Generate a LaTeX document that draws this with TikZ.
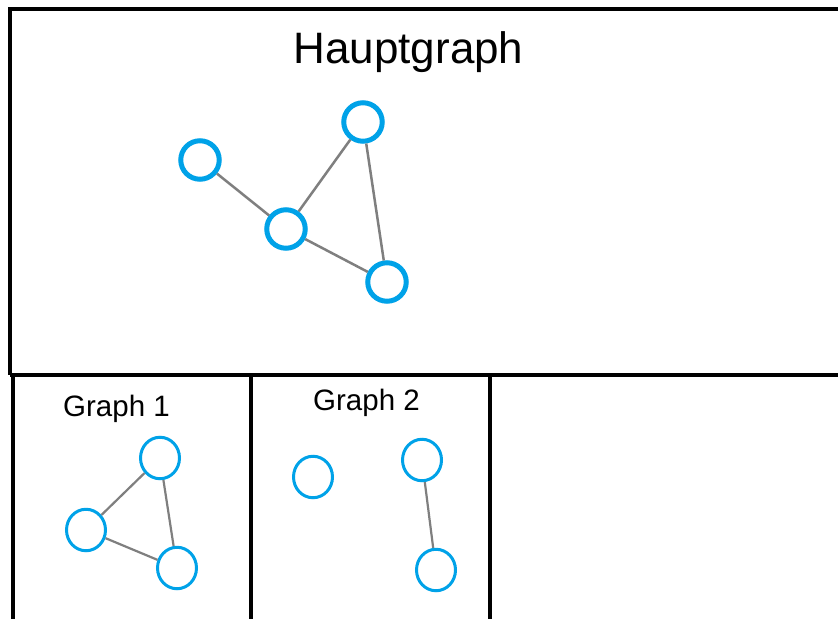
\documentclass[tikz,border=0pt]{standalone}
\usepackage{fontspec}
\setmainfont{Liberation Sans}
\usetikzlibrary{shapes.geometric}
\definecolor{nodeblue}{HTML}{00A2E8}
\definecolor{edgegray}{HTML}{7F7F7F}
\tikzset{
  frame/.style={line width=4pt, black},
  bignode/.style={circle, draw=nodeblue, line width=5pt, minimum size=38.5pt, inner sep=0pt},
  smallnode/.style={ellipse, draw=nodeblue, line width=3pt, minimum width=39pt, minimum height=41.5pt, inner sep=0pt},
  bigedge/.style={draw=edgegray, line width=2.5pt},
  smalledge/.style={draw=edgegray, line width=2.2pt},
  title/.style={anchor=base, inner sep=0pt, font=\fontsize{44}{48}\selectfont},
  subtitle/.style={anchor=base, inner sep=0pt, font=\fontsize{29.5}{32}\selectfont}
}
\begin{document}
\begin{tikzpicture}[x=1pt, y=-1pt]
\useasboundingbox (0,0) rectangle (838,619);
% frames
\coordinate (tl) at (10,9);
\coordinate (tr) at (838,9);
\coordinate (ml) at (10,375);
\coordinate (mr) at (838,375);
\coordinate (bl1) at (12.5,375);
\coordinate (bl2) at (12.5,619);
\coordinate (d1t) at (250.5,375);
\coordinate (d1b) at (250.5,619);
\coordinate (d2t) at (490,375);
\coordinate (d2b) at (490,619);
\draw[frame] (tr) -- (tl) -- (ml);
\draw[frame] (ml) -- (mr);
\draw[frame] (bl1) -- (bl2);
\draw[frame] (d1t) -- (d1b);
\draw[frame] (d2t) -- (d2b);
% titles
\node[title] (tH) at (408.5,63.3) {Hauptgraph};
\node[subtitle] (t1) at (116.5,416) {Graph 1};
\node[subtitle] (t2) at (366.5,410) {Graph 2};
% main graph
\node[bignode] (a) at (200,160) {};
\node[bignode] (b) at (363,122) {};
\node[bignode] (c) at (286,229) {};
\node[bignode] (d) at (387,282) {};
\draw[bigedge] (a) -- (c);
\draw[bigedge] (b) -- (c);
\draw[bigedge] (b) -- (d);
\draw[bigedge] (c) -- (d);
% graph 1
\node[smallnode] (g1t) at (160,458) {};
\node[smallnode] (g1l) at (86,530) {};
\node[smallnode] (g1r) at (177,568) {};
\draw[smalledge] (g1t) -- (g1l);
\draw[smalledge] (g1l) -- (g1r);
\draw[smalledge] (g1t) -- (g1r);
% graph 2
\node[smallnode] (g2s) at (313,477) {};
\node[smallnode] (g2t) at (422,460) {};
\node[smallnode] (g2b) at (436,570) {};
\draw[smalledge] (g2t) -- (g2b);
\end{tikzpicture}
\end{document}
